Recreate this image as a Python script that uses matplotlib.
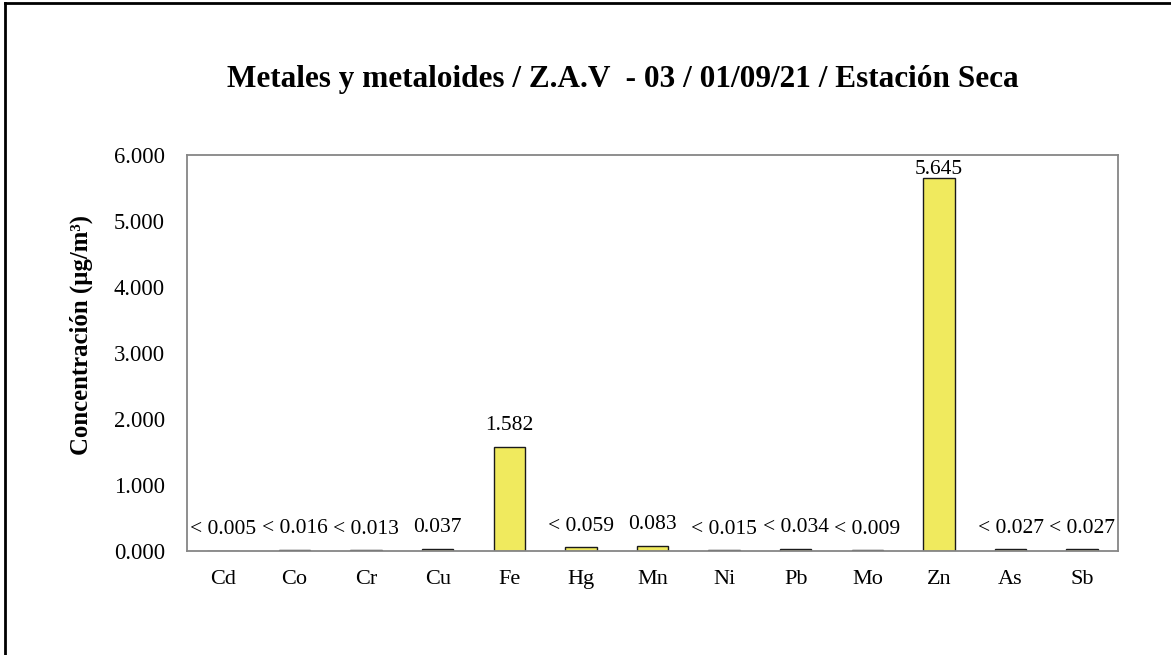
import matplotlib
matplotlib.use("Agg")
import matplotlib.pyplot as plt
from matplotlib.lines import Line2D

plt.rcParams['font.family'] = ['Liberation Serif', 'DejaVu Serif']

categories = ["Cd", "Co", "Cr", "Cu", "Fe", "Hg", "Mn", "Ni", "Pb", "Mo", "Zn", "As", "Sb"]
values = [0.005, 0.016, 0.013, 0.037, 1.582, 0.059, 0.083, 0.015, 0.034, 0.009, 5.645, 0.027, 0.027]
labels = ["< 0.005", "< 0.016", "< 0.013", "0.037", "1.582", "< 0.059", "0.083",
          "< 0.015", "< 0.034", "< 0.009", "5.645", "< 0.027", "< 0.027"]
yticks = [0, 1, 2, 3, 4, 5, 6]
ytick_labels = ["0.000", "1.000", "2.000", "3.000", "4.000", "5.000", "6.000"]
title = "Metales y metaloides / Z.A.V  - 03 / 01/09/21 / Estación Seca"
ylabel = "Concentración (µg/m³)"

DPI = 100
fig = plt.figure(figsize=(11.71, 6.55), dpi=DPI)
ax = fig.add_axes([187/1171, 1 - 551/655, 931/1171, 396/655])

x = list(range(len(categories)))
ax.bar(x, values, width=0.44, color="#F0EA5E", edgecolor="#1a1a1a", linewidth=1.0)

ymax = 6
ax.set_xlim(-0.5, len(categories) - 0.5)
ax.set_ylim(0, ymax)
ax.set_yticks(yticks)
ax.set_yticklabels(ytick_labels)
ax.set_xticks(x)
ax.set_xticklabels(categories)
ax.tick_params(axis='both', length=0, colors='black')
ax.tick_params(axis='y', pad=16, labelsize=16.3)
ax.tick_params(axis='x', pad=14, labelsize=16)
for s in ax.spines.values():
    s.set_color("#868686")
    s.set_linewidth(1.3)

# data labels, kept inside the plot area like the original
axes_h_px = 396
for xi, v, lab in zip(x, values, labels):
    gap_px = (ymax - v) / ymax * axes_h_px
    off_px = min(21.0, gap_px - 14.0)
    off_pt = off_px * 72.0 / DPI
    ax.annotate(lab, (xi, v), xytext=(0, off_pt), textcoords='offset points',
                ha='center', va='center', fontsize=15.5)

ax.set_ylabel(ylabel, fontsize=17.8, fontweight='bold')
ax.yaxis.set_label_coords((93 - 187) / 931, (551 - 335) / 396)

fig.text(623/1171, 1 - 80/655, title, ha='center', va='center',
         fontsize=22.5, fontweight='bold')

# outer border (left and top visible)
fig.add_artist(Line2D([5/1171, 5/1171], [0, 1 - 3/655], transform=fig.transFigure,
                      color='black', linewidth=2))
fig.add_artist(Line2D([5/1171, 1], [1 - 3/655, 1 - 3/655], transform=fig.transFigure,
                      color='black', linewidth=2))

fig.savefig("out.png", dpi=DPI)
